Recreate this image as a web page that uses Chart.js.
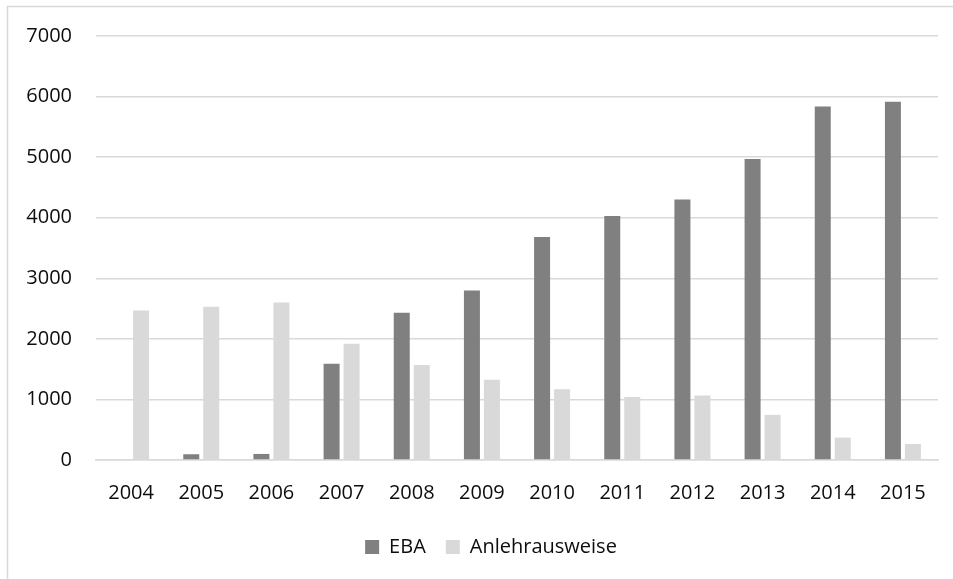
<!DOCTYPE html>
<html>
<head>
<meta charset="utf-8">
<script src="https://cdn.jsdelivr.net/npm/chart.js@4/dist/chart.umd.min.js"></script>
<style>
  html, body { margin: 0; padding: 0; background: #ffffff; }
  #wrap { width: 953px; height: 579px; position: relative; }
</style>
</head>
<body>
<div id="wrap"><canvas id="c" width="953" height="579"></canvas></div>
<script>
// Jahrgänge und Anzahl Abschlüsse
const years = ['2004', '2005', '2006', '2007', '2008', '2009', '2010', '2011', '2012', '2013', '2014', '2015'];
const ebaValues = [0, 95, 100, 1590, 2430, 2800, 3680, 4030, 4300, 4970, 5835, 5915];
const anlehrValues = [2470, 2530, 2600, 1920, 1570, 1325, 1170, 1040, 1065, 745, 370, 265];
const yTicks = [0, 1000, 2000, 3000, 4000, 5000, 6000, 7000];

const FONT = '"Open Sans", Lato, sans-serif';
const TEXT = '#0d0d0d';
const GRID = '#d9d9d9';

// thin frame around the whole chart object
const framePlugin = {
  id: 'frame',
  beforeDraw(chart) {
    const ctx = chart.ctx;
    ctx.save();
    ctx.strokeStyle = GRID;
    ctx.lineWidth = 1.5;
    ctx.strokeRect(7.5, 6.5, 1200, 1200);
    ctx.restore();
  }
};

// centre the legend under the plot area rather than the whole canvas
const legendShift = {
  id: 'legendShift',
  afterLayout(chart) {
    const lg = chart.legend;
    if (!lg) return;
    const dx = 22, dy = -8;
    lg.left += dx;
    lg.right += dx;
    lg.top += dy;
    lg.bottom += dy;
  }
};

new Chart(document.getElementById('c'), {
  type: 'bar',
  data: {
    labels: years,
    datasets: [
      { label: 'EBA', data: ebaValues, backgroundColor: '#808080',
        categoryPercentage: 0.57, barPercentage: 0.8 },
      { label: 'Anlehrausweise', data: anlehrValues, backgroundColor: '#d9d9d9',
        categoryPercentage: 0.57, barPercentage: 0.8 }
    ]
  },
  options: {
    responsive: false,
    animation: false,
    devicePixelRatio: 1,
    layout: { padding: { left: 0, right: 15, top: 36, bottom: 4 } },
    plugins: {
      tooltip: { enabled: false },
      legend: {
        position: 'bottom',
        labels: {
          font: { family: FONT, size: 20 },
          color: TEXT,
          boxWidth: 14,
          boxHeight: 14,
          padding: 20
        }
      }
    },
    scales: {
      x: {
        grid: { display: false, drawTicks: false },
        border: { display: true, color: GRID, width: 1.5 },
        ticks: { font: { family: FONT, size: 20 }, color: TEXT, padding: 21, maxRotation: 0 },
        afterFit(scale) { scale.height = 65; }
      },
      y: {
        min: 0,
        max: 7000,
        afterBuildTicks(scale) { scale.ticks = yTicks.map(v => ({ value: v })); },
        grid: { color: GRID, lineWidth: 1.5, drawTicks: false },
        border: { display: false },
        ticks: {
          font: { family: FONT, size: 20 }, color: TEXT, padding: 24,
          callback: (v) => String(v)
        },
        afterFit(scale) { scale.width = 96; }
      }
    }
  },
  plugins: [framePlugin, legendShift]
});
</script>
</body>
</html>
